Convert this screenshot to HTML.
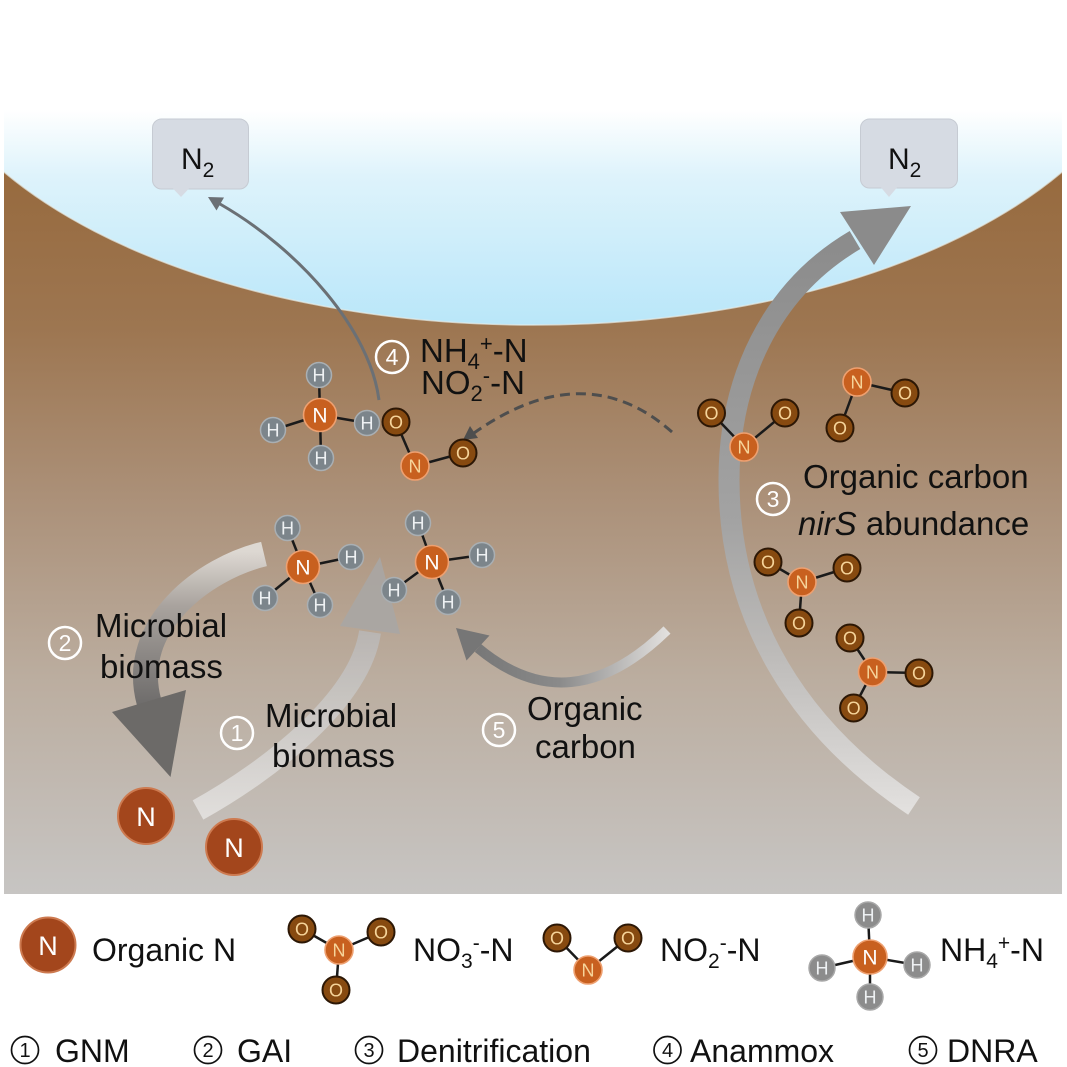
<!DOCTYPE html>
<html>
<head>
<meta charset="utf-8">
<style>
html,body{margin:0;padding:0;background:#fff;}
svg{display:block;}
text{font-family:"Liberation Sans",Arial,sans-serif;}
</style>
</head>
<body>
<svg width="1067" height="1067" viewBox="0 0 1067 1067" xmlns="http://www.w3.org/2000/svg">
<defs>
  <linearGradient id="soil" gradientUnits="userSpaceOnUse" x1="0" y1="170" x2="0" y2="894">
    <stop offset="0" stop-color="#976a3e"/>
    <stop offset="0.22" stop-color="#9d7651"/>
    <stop offset="0.45" stop-color="#ab9078"/>
    <stop offset="0.70" stop-color="#bbad9f"/>
    <stop offset="1" stop-color="#c7c5c3"/>
  </linearGradient>
  <linearGradient id="sky" gradientUnits="userSpaceOnUse" x1="0" y1="110" x2="0" y2="330">
    <stop offset="0" stop-color="#ffffff"/>
    <stop offset="0.3" stop-color="#def3fb"/>
    <stop offset="1" stop-color="#b8e6f9"/>
  </linearGradient>
  <clipPath id="panel"><rect x="4" y="100" width="1058" height="794"/></clipPath>
  <linearGradient id="g3" gradientUnits="userSpaceOnUse" x1="0" y1="810" x2="0" y2="235">
    <stop offset="0" stop-color="#e2e0de"/>
    <stop offset="0.27" stop-color="#bdbbb9"/>
    <stop offset="0.5" stop-color="#a3a3a3"/>
    <stop offset="1" stop-color="#8b8b8b"/>
  </linearGradient>
  <linearGradient id="g2" gradientUnits="userSpaceOnUse" x1="0" y1="552" x2="0" y2="705">
    <stop offset="0" stop-color="#ddd8d2"/>
    <stop offset="0.35" stop-color="#a9a39e"/>
    <stop offset="1" stop-color="#6e6c6b"/>
  </linearGradient>
  <linearGradient id="g1" gradientUnits="userSpaceOnUse" x1="0" y1="815" x2="0" y2="560">
    <stop offset="0" stop-color="#e4e2e0"/>
    <stop offset="1" stop-color="#a9a7a5"/>
  </linearGradient>
  <linearGradient id="g5" gradientUnits="userSpaceOnUse" x1="470" y1="0" x2="668" y2="0">
    <stop offset="0" stop-color="#767676"/>
    <stop offset="0.45" stop-color="#8a8a8a"/>
    <stop offset="1" stop-color="#e2e0de"/>
  </linearGradient>
</defs>

<!-- background panel -->
<rect x="4" y="100" width="1058" height="794" fill="url(#soil)"/>
<g clip-path="url(#panel)">
  <ellipse cx="533" cy="5" rx="620" ry="320" fill="url(#sky)" stroke="#e6ece8" stroke-opacity="0.7" stroke-width="1.5"/>
</g>

<!-- N2 boxes -->
<rect x="152.5" y="119" width="96" height="70" rx="9" fill="#d6dbe3" stroke="#c6cbd3" stroke-width="1"/>
<polygon points="173,188.5 189,188.5 181,197" fill="#d6dbe3"/>
<text x="181" y="169" font-size="30" fill="#111">N<tspan font-size="21" dy="8">2</tspan></text>
<rect x="860.5" y="119" width="97" height="69" rx="9" fill="#d6dbe3" stroke="#c6cbd3" stroke-width="1"/>
<polygon points="881,187.5 897,187.5 889,197" fill="#d6dbe3"/>
<text x="888" y="169" font-size="30" fill="#111">N<tspan font-size="21" dy="8">2</tspan></text>

<!-- Denitrification big arrow (3) -->
<path d="M 914 806 C 800 730, 729 620, 729 480 C 729 380, 770 290, 855 240" fill="none" stroke="url(#g3)" stroke-width="21"/>
<polygon points="911,206 840,212 874,265" fill="#8b8b8b"/>

<!-- GAI arrow (2) -->
<path d="M 264 554 C 205 568, 128 625, 149 702" fill="none" stroke="url(#g2)" stroke-width="25"/>
<polygon points="112,712 186,690 170.5,777" fill="#6c6a68"/>

<!-- GNM arrow (1) -->
<g opacity="0.88">
<path d="M 198 810 C 270 770, 360 700, 370 632" fill="none" stroke="url(#g1)" stroke-width="22"/>
<polygon points="340,626 400,634 380,557" fill="#a9a7a5"/>
</g>

<!-- DNRA arrow (5) -->
<path d="M 667 630 Q 570 725 478 648" fill="none" stroke="url(#g5)" stroke-width="10"/>
<polygon points="489.5,635.5 466.5,660.5 456,628" fill="#767676"/>

<!-- Anammox thin arrow -->
<path d="M 379 400 C 370 330, 300 250, 220 204" fill="none" stroke="#6b7075" stroke-width="3"/>
<polygon points="208,197 224,197.5 216.5,210.5" fill="#6b7075"/>

<!-- dashed arrow -->
<path d="M 672 432 Q 585 355 474 433" fill="none" stroke="#4e4e4e" stroke-width="3" stroke-dasharray="10,6"/>
<polygon points="463,440 478,438 470,426" fill="#4e4e4e"/>

<!-- bonds -->
<g stroke="#1a1a1a" stroke-width="2.5">
  <line x1="320" y1="415" x2="319" y2="375"/><line x1="320" y1="415" x2="273" y2="430"/>
  <line x1="320" y1="415" x2="367" y2="423"/><line x1="320" y1="415" x2="321" y2="458"/>
  <line x1="396" y1="422" x2="415" y2="466"/><line x1="415" y1="466" x2="463" y2="453"/>
  <line x1="303" y1="567" x2="287.5" y2="528"/><line x1="303" y1="567" x2="351" y2="557"/>
  <line x1="303" y1="567" x2="265" y2="598"/><line x1="303" y1="567" x2="320" y2="605"/>
  <line x1="432" y1="562" x2="418" y2="523"/><line x1="432" y1="562" x2="482" y2="555"/>
  <line x1="432" y1="562" x2="394" y2="590"/><line x1="432" y1="562" x2="448" y2="602"/>
  <line x1="744" y1="447" x2="711.5" y2="413"/><line x1="744" y1="447" x2="785" y2="413"/>
  <line x1="857" y1="382" x2="905" y2="393"/><line x1="857" y1="382" x2="840" y2="428"/>
  <line x1="802" y1="582" x2="768" y2="562"/><line x1="802" y1="582" x2="847" y2="568"/><line x1="802" y1="582" x2="799" y2="623"/>
  <line x1="872.5" y1="672" x2="850" y2="638"/><line x1="872.5" y1="672" x2="919" y2="673"/><line x1="872.5" y1="672" x2="853.6" y2="708"/>
  <line x1="339" y1="950" x2="302" y2="929"/><line x1="339" y1="950" x2="381" y2="932"/><line x1="339" y1="950" x2="336" y2="990"/>
  <line x1="588" y1="970" x2="557" y2="938"/><line x1="588" y1="970" x2="628" y2="938"/>
  <line x1="870" y1="957" x2="868" y2="915"/><line x1="870" y1="957" x2="822" y2="968"/>
  <line x1="870" y1="957" x2="917" y2="965"/><line x1="870" y1="957" x2="870" y2="997"/>
</g>

<!-- H atoms -->
<g font-size="18" text-anchor="middle" fill="#eef1f3">
  <g fill="#7c858b" stroke="#a9afb3" stroke-width="1.5">
    <circle cx="319" cy="375" r="12.5"/><circle cx="273" cy="430" r="12.5"/><circle cx="367" cy="423" r="12.5"/><circle cx="321" cy="458" r="12.5"/>
    <circle cx="287.5" cy="528" r="12.5"/><circle cx="351" cy="557" r="12.5"/><circle cx="265" cy="598" r="12.5"/><circle cx="320" cy="605" r="12.5"/>
    <circle cx="418" cy="523" r="12.5"/><circle cx="482" cy="555" r="12.5"/><circle cx="394" cy="590" r="12.5"/><circle cx="448" cy="602" r="12.5"/>
  </g>
  <g fill="#8c8c8c" stroke="#a8a8a8" stroke-width="1.5">
    <circle cx="868" cy="915" r="13"/><circle cx="822" cy="968" r="13"/><circle cx="917" cy="965" r="13"/><circle cx="870" cy="997" r="13"/>
  </g>
  <text x="319" y="381.5">H</text><text x="273" y="436.5">H</text><text x="367" y="429.5">H</text><text x="321" y="464.5">H</text>
  <text x="287.5" y="534.5">H</text><text x="351" y="563.5">H</text><text x="265" y="604.5">H</text><text x="320" y="611.5">H</text>
  <text x="418" y="529.5">H</text><text x="482" y="561.5">H</text><text x="394" y="596.5">H</text><text x="448" y="608.5">H</text>
  <text x="868" y="921.5">H</text><text x="822" y="974.5">H</text><text x="917" y="971.5">H</text><text x="870" y="1003.5">H</text>
</g>

<!-- O atoms -->
<g fill="#874a10" stroke="#2c1705" stroke-width="2">
  <circle cx="396" cy="422" r="13.5"/><circle cx="463" cy="453" r="13.5"/>
  <circle cx="711.5" cy="413" r="13.5"/><circle cx="785" cy="413" r="13.5"/>
  <circle cx="905" cy="393" r="13.5"/><circle cx="840" cy="428" r="13.5"/>
  <circle cx="768" cy="562" r="13.5"/><circle cx="847" cy="568" r="13.5"/><circle cx="799" cy="623" r="13.5"/>
  <circle cx="850" cy="638" r="13.5"/><circle cx="919" cy="673" r="13.5"/><circle cx="853.6" cy="708" r="13.5"/>
  <circle cx="302" cy="929" r="13.5"/><circle cx="381" cy="932" r="13.5"/><circle cx="336" cy="990" r="13.5"/>
  <circle cx="557" cy="938" r="13.5"/><circle cx="628" cy="938" r="13.5"/>
</g>
<g font-size="18" text-anchor="middle" fill="#f6d49a">
  <text x="396" y="428.5">O</text><text x="463" y="459.5">O</text>
  <text x="711.5" y="419.5">O</text><text x="785" y="419.5">O</text>
  <text x="905" y="399.5">O</text><text x="840" y="434.5">O</text>
  <text x="768" y="568.5">O</text><text x="847" y="574.5">O</text><text x="799" y="629.5">O</text>
  <text x="850" y="644.5">O</text><text x="919" y="679.5">O</text><text x="853.6" y="714.5">O</text>
  <text x="302" y="935.5">O</text><text x="381" y="938.5">O</text><text x="336" y="996.5">O</text>
  <text x="557" y="944.5">O</text><text x="628" y="944.5">O</text>
</g>

<!-- N atoms (orange) -->
<g fill="#c8601f" stroke="#eea070" stroke-width="1.6">
  <circle cx="320" cy="415" r="16.5"/><circle cx="415" cy="466" r="14"/>
  <circle cx="303" cy="567" r="16.5"/><circle cx="432" cy="562" r="16.5"/>
  <circle cx="744" cy="447" r="14"/><circle cx="857" cy="382" r="14"/>
  <circle cx="802" cy="582" r="14"/><circle cx="872.5" cy="672" r="14"/>
  <circle cx="339" cy="950" r="14"/><circle cx="588" cy="970" r="14"/>
  <circle cx="870" cy="957" r="17"/>
</g>
<g text-anchor="middle" fill="#ffffff">
  <text x="320" y="422.5" font-size="21">N</text><text x="415" y="472.5" font-size="18" fill="#f6d49a">N</text>
  <text x="303" y="574.5" font-size="21">N</text><text x="432" y="569.5" font-size="21">N</text>
  <text x="744" y="453.5" font-size="18" fill="#f6d49a">N</text><text x="857" y="388.5" font-size="18" fill="#f6d49a">N</text>
  <text x="802" y="588.5" font-size="18" fill="#f6d49a">N</text><text x="872.5" y="678.5" font-size="18" fill="#f6d49a">N</text>
  <text x="339" y="956.5" font-size="18" fill="#f6d49a">N</text><text x="588" y="976.5" font-size="18" fill="#f6d49a">N</text>
  <text x="870" y="964.5" font-size="21">N</text>
</g>

<!-- Organic N big circles -->
<g fill="#a3461c" stroke="#cd7a50" stroke-width="2">
  <circle cx="146" cy="816" r="28"/><circle cx="234" cy="847" r="28"/>
  <circle cx="48" cy="945" r="27.5"/>
</g>
<g text-anchor="middle" fill="#ffffff" font-size="27">
  <text x="146" y="826">N</text><text x="234" y="857">N</text><text x="48" y="955">N</text>
</g>

<!-- Circled numbers in diagram -->
<g fill="none" stroke="#ffffff" stroke-width="2.5">
  <circle cx="392" cy="357" r="16"/><circle cx="773" cy="499" r="16"/>
  <circle cx="65" cy="643" r="16"/><circle cx="237" cy="733" r="16"/><circle cx="499" cy="730" r="16"/>
</g>
<g fill="#ffffff" font-size="23" text-anchor="middle">
  <text x="392" y="365">4</text><text x="773" y="507">3</text>
  <text x="65" y="651">2</text><text x="237" y="741">1</text><text x="499" y="738">5</text>
</g>

<!-- Labels -->
<g font-size="33" fill="#111">
  <text x="420" y="362">NH<tspan font-size="22" dy="7">4</tspan><tspan font-size="22" dy="-18">+</tspan><tspan dy="11">-N</tspan></text>
  <text x="421" y="394">NO<tspan font-size="22" dy="7">2</tspan><tspan font-size="22" dy="-18">-</tspan><tspan dy="11">-N</tspan></text>
  <text x="803" y="488">Organic carbon</text>
  <text x="798" y="535"><tspan font-style="italic">nirS</tspan> abundance</text>
  <text x="95" y="637">Microbial</text>
  <text x="100" y="678">biomass</text>
  <text x="265" y="727">Microbial</text>
  <text x="272" y="767">biomass</text>
  <text x="527" y="720">Organic</text>
  <text x="535" y="758">carbon</text>
</g>

<!-- Legend row 1 -->
<g font-size="32" fill="#111">
  <text x="92" y="961">Organic N</text>
  <text x="413" y="961">NO<tspan font-size="21" dy="7">3</tspan><tspan font-size="21" dy="-18">-</tspan><tspan dy="11">-N</tspan></text>
  <text x="660" y="961">NO<tspan font-size="21" dy="7">2</tspan><tspan font-size="21" dy="-18">-</tspan><tspan dy="11">-N</tspan></text>
  <text x="940" y="961">NH<tspan font-size="21" dy="7">4</tspan><tspan font-size="21" dy="-18">+</tspan><tspan dy="11">-N</tspan></text>
</g>

<!-- Legend row 2 -->
<g fill="none" stroke="#111" stroke-width="1.7">
  <circle cx="25" cy="1050" r="13.5"/><circle cx="208" cy="1050" r="13.5"/>
  <circle cx="369" cy="1050" r="13.5"/><circle cx="667.5" cy="1050" r="13.5"/><circle cx="923" cy="1050" r="13.5"/>
</g>
<g fill="#111" font-size="20" text-anchor="middle">
  <text x="25" y="1057">1</text><text x="208" y="1057">2</text><text x="369" y="1057">3</text>
  <text x="667.5" y="1057">4</text><text x="923" y="1057">5</text>
</g>
<g font-size="32" fill="#111">
  <text x="55" y="1062">GNM</text>
  <text x="237" y="1062">GAI</text>
  <text x="397" y="1062">Denitrification</text>
  <text x="690" y="1062">Anammox</text>
  <text x="947" y="1062">DNRA</text>
</g>
</svg>
</body>
</html>
